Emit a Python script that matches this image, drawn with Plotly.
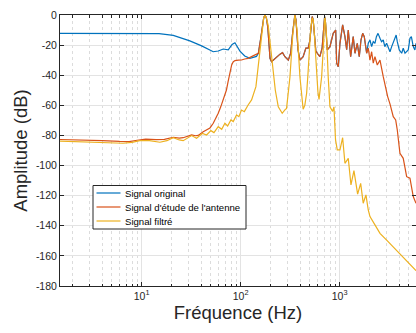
import plotly.graph_objects as go

# ---------------- data (Hz, dB) ----------------
blue_left_f = [1.5, 3, 6, 10, 15, 20.9, 25, 30.7, 40.4, 52.9, 59.4, 66.8, 75, 82, 87.6, 93, 98.4, 110, 124, 144.6]
blue_left_db = [-12.2, -12.2, -12.3, -12.3, -12.4, -13.5, -15.3, -17.2, -20.5, -24.4, -23.9, -22.6, -23.2, -19.5, -18.4, -21.5, -24, -27.2, -28.8, -27.5]

red_left_f = [1.5, 2.5, 4, 6, 7.5, 9, 11, 14, 17, 20.9, 24, 26.3, 29, 32, 35, 37.3, 41.9, 45.3, 49, 52.9, 56, 59.4, 63, 66.8, 69.4, 71.9, 74.9, 78, 81.2, 84, 87.6, 95, 102, 110, 119, 135]
red_left_db = [-82.7, -82.9, -83.4, -84, -84.1, -83.2, -82.4, -82.8, -82.6, -81.2, -81.8, -81.5, -80.6, -79.7, -80.2, -80, -77.5, -76.4, -75, -71.9, -68.8, -65.3, -61, -56.4, -53.5, -49.8, -44, -38, -33.2, -31.2, -30.3, -30, -29.9, -29.2, -28.8, -27]

# segment where original and antenna signals coincide
mid_f = [151, 160, 165, 171, 176, 182, 188, 193, 198, 205, 231, 250, 265, 280, 303, 320, 335, 345, 353, 362, 372, 380, 397, 428, 456, 481, 500, 515, 528, 540, 555, 575, 594, 631, 665, 690, 705, 720, 735, 750, 798, 861, 912, 933, 968, 1007, 1072, 1131, 1177, 1222, 1291, 1371, 1428, 1507, 1578, 1642, 1708, 1773, 1874]
mid_db = [-25.4, -15, -7, -2, 0, -2, -8, -20, -28.8, -31, -27.7, -26, -25, -27.7, -30, -25.4, -12, -2, 0, -3, -12, -23.2, -30, -27.7, -22, -22, -17, -5, -1, -3, -12, -24, -25.4, -27.7, -22, -10, -1, -5, -15, -23.2, -21, -12.2, -10, -32, -34.3, -18.8, -6.6, -14.4, -23, -10, -27.7, -14.4, -25.4, -18.8, -27.7, -16.6, -12.2, -14.4, -25.4]

blue_right_f = [1945, 2024, 2104, 2184, 2273, 2350, 2440, 2555, 2650, 2756, 2860, 2980, 3100, 3222, 3353, 3550, 3720, 3819, 4000, 4230, 4387, 4570, 4750, 4930, 5128, 5300, 5536, 5750, 5900]
blue_right_db = [-18.8, -16.6, -21, -17.7, -18.8, -14.4, -12.2, -15.5, -17.7, -16.6, -21, -18.8, -22.1, -24.4, -21, -16.6, -13.3, -17.7, -23.2, -25.4, -22.1, -25.4, -24.4, -23.2, -15.5, -14.4, -21, -23.2, -18.8]

red_right_f = [1945, 2024, 2104, 2184, 2273, 2398, 2555, 2756, 2937, 3054, 3222, 3353, 3478, 3680, 3819, 4064, 4387, 4750, 5128, 5536, 5900]
red_right_db = [-22, -30, -24.4, -32, -27.7, -33.2, -30, -41, -49.8, -54.2, -59, -63.5, -67.5, -69.7, -76.4, -91.8, -95.2, -107.4, -108.4, -120.6, -125]

yel_f = [1.5, 2, 3, 4, 5, 6.5, 8, 9.6, 12, 15.3, 18, 20.9, 24, 26.3, 32, 35.9, 41.3, 45.3, 50.1, 53.8, 59.4, 64.4, 69.4, 73.9, 79.8, 84.2, 91, 96, 102, 109, 119, 129, 142.7,
         151, 158, 165, 171, 176, 182, 190, 199, 210, 224, 240, 263, 280, 291, 315, 335, 353, 372, 397, 428, 445, 464, 480, 494, 510, 528, 540, 552, 568, 587, 603, 619, 658, 694, 705, 720, 738, 766, 798, 849, 876, 909, 946, 1007, 1072, 1131, 1222, 1301, 1394, 1519, 1630, 1730, 1843, 1945, 2024, 2273, 2555, 3000, 4000, 5000, 5900]
yel_db = [-83.8, -84, -84.3, -84.6, -84.9, -85.2, -84.6, -83.5, -83.4, -84.5, -83.5, -81.5, -83, -83.5, -80.1, -81.9, -78.6, -79.7, -76.8, -78.1, -74.2, -75.9, -71.9, -73.7, -69.7, -70.8, -66.4, -67.5, -63.1, -64.2, -59.8, -56.4, -47.6,
          -33, -20, -7, -2, 0, -2, -7, -20, -35, -50, -61, -65.3, -63, -62, -41, -14.4, 0, -10, -41, -62.6, -60, -52, -38, -23.2, -9, -2, -3, -10, -24, -41, -51, -56, -41, -14.4, -1, -5, -14.4, -41, -61, -64, -61, -83, -89.6, -89.6, -81.5, -98.5, -95.2, -112.9, -103.4, -119, -111.8, -125, -119.5, -129.5, -133.9, -139.4, -145, -149.7, -158.3, -165, -169.8]

series_names = ["Signal original", "Signal d'étude de l'antenne", "Signal filtré"]
series_colors = ["#0072BD", "#D95319", "#EDB120"]

y_ticks = [0, -20, -40, -60, -80, -100, -120, -140, -160, -180]
x_ticks = [10, 100, 1000]
x_ticktext = ["10<sup>1</sup>", "10<sup>2</sup>", "10<sup>3</sup>"]

blue_f = blue_left_f + mid_f + blue_right_f
blue_db = blue_left_db + mid_db + blue_right_db
red_f = red_left_f + mid_f + red_right_f
red_db = red_left_db + mid_db + red_right_db

fig = go.Figure()
for f, d, n, c in zip([blue_f, red_f, yel_f], [blue_db, red_db, yel_db], series_names, series_colors):
    fig.add_trace(go.Scatter(x=f, y=d, mode="lines", name=n, line=dict(color=c, width=1.2),
                             showlegend=False))

font = "Liberation Sans, Arial, Helvetica, sans-serif"

# legend drawn in paper coordinates (box, line samples, labels)
W, H, L, T, B = 416, 333, 60, 15, 47
pw, ph = W - L, H - T - B
def px(x):
    return (x - L) / pw
def py(y):
    return (H - B - y) / ph

shapes = [dict(type="rect", xref="paper", yref="paper", x0=px(93), x1=px(246), y0=py(229), y1=py(185.5),
               line=dict(color="#262626", width=1), fillcolor="white", layer="above")]
annotations = []
for i, (n, c) in enumerate(zip(series_names, series_colors)):
    yy = 193 + 14 * i
    shapes.append(dict(type="line", xref="paper", yref="paper", x0=px(96.5), x1=px(120.5), y0=py(yy), y1=py(yy),
                       line=dict(color=c, width=1.2), layer="above"))
    annotations.append(dict(xref="paper", yref="paper", x=px(123), y=py(yy), text=n, showarrow=False,
                            xanchor="left", yanchor="middle", font=dict(size=9.6, color="#000000")))

fig.update_layout(
    width=W, height=H,
    margin=dict(l=L, r=0, t=T, b=B),
    paper_bgcolor="white", plot_bgcolor="white",
    font=dict(family=font, color="#262626", size=11),
    showlegend=False,
    shapes=shapes, annotations=annotations,
)
fig.update_xaxes(
    type="log", range=[0.176, 3.771], automargin=False,
    tickvals=x_ticks, ticktext=x_ticktext,
    ticks="inside", ticklen=4, tickcolor="#262626",
    showline=True, linecolor="#262626", linewidth=1, mirror="ticks",
    showgrid=True, gridcolor="#e3e3e3", gridwidth=1,
    minor=dict(dtick="D1", ticks="inside", ticklen=2.5, tickcolor="#262626",
               showgrid=True, gridcolor="#dcdcdc", griddash="dot", gridwidth=1),
    title=dict(text="Fréquence (Hz)", font=dict(size=18.5, color="#262626"), standoff=5),
    tickfont=dict(size=10.5),
    zeroline=False,
)
fig.update_yaxes(
    range=[-180, 0], automargin=False,
    tickvals=y_ticks, ticktext=[str(v) for v in y_ticks],
    ticks="inside", ticklen=4, tickcolor="#262626",
    showline=True, linecolor="#262626", linewidth=1, mirror="ticks",
    showgrid=True, gridcolor="#e3e3e3", gridwidth=1,
    title=dict(text="Amplitude (dB)", font=dict(size=18.5, color="#262626"), standoff=3),
    tickfont=dict(size=10.5),
    zeroline=False,
)
fig.write_html("out.html", config={"displayModeBar": False},
               post_script="document.body.style.margin='0';document.body.style.overflow='hidden';")
